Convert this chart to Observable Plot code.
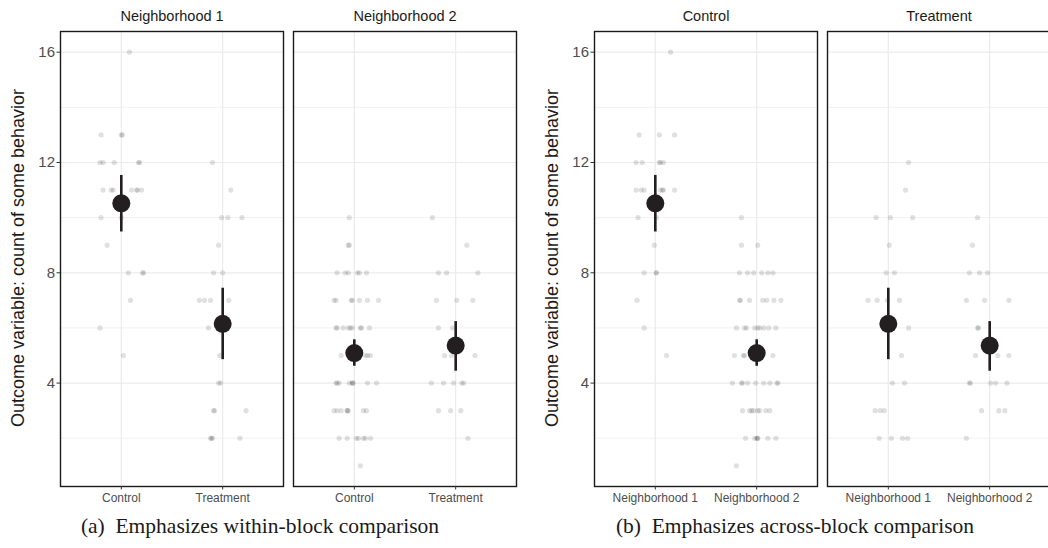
<!DOCTYPE html>
<html><head><meta charset="utf-8">
<script src="https://cdn.jsdelivr.net/npm/d3@7"></script>
<script src="https://cdn.jsdelivr.net/npm/@observablehq/plot@0.6"></script>
<style>
html,body{margin:0;padding:0;background:#fff;overflow:hidden;}
#root{position:relative;width:1048px;height:548px;overflow:hidden;background:#fff;}
.panel{position:absolute;top:0;width:520px;height:510px;}
.panel svg{max-width:none !important;}
.ytitle{position:absolute;font-family:"Liberation Sans",Arial,sans-serif;font-size:18px;color:#1a1a1a;white-space:nowrap;transform:translate(-50%,-50%) rotate(-90deg);}
.caption{position:absolute;font-family:"Liberation Serif","DejaVu Serif",serif;font-size:21.5px;color:#1a1a1a;white-space:nowrap;transform:translate(-50%,-50%);}
</style>
</head><body>
<div id="root">
  <div class="panel" id="pa" style="left:0px"></div>
  <div class="panel" id="pb" style="left:534px"></div>
  <div class="ytitle" style="left:18px;top:258px">Outcome variable: count of some behavior</div>
  <div class="ytitle" style="left:552px;top:258px">Outcome variable: count of some behavior</div>
  <div class="caption" style="left:260px;top:526px">(a)&nbsp; Emphasizes within-block comparison</div>
  <div class="caption" style="left:795px;top:526px">(b)&nbsp; Emphasizes across-block comparison</div>
</div>
<script>
// Categories
const neighborhoods = ["Neighborhood 1", "Neighborhood 2"];
const treatments = ["Control", "Treatment"];
const yTicks = [4, 8, 12, 16];

const n1ControlY = [16, 13,13,13, 12,12,12,12,12, 11,11,11,11,11,11,11, 10,10, 9, 8,8,8, 7, 6, 5];
const n1ControlJitA = [0.08, -0.20,0.00,0.01, -0.21,-0.18,-0.07,0.17,0.18, -0.18,-0.10,-0.08,0.10,0.15,0.16,0.20, -0.20,0.00, -0.14, 0.07,0.21,0.22, 0.09, -0.21, 0.02];
const n1ControlJitB = [0.15, -0.16,0.04,0.19, -0.19,-0.13,0.04,0.05,0.08, -0.19,-0.14,-0.11,0.05,0.07,0.08,0.19, -0.17,0.01, -0.01, -0.11,0.01,0.01, -0.18, -0.11, 0.11];

const n1TreatY = [12, 11, 10,10,10, 9, 8,8, 7,7,7,7, 6,6, 5, 4,4, 3,3,3, 2,2,2,2];
const n1TreatJitA = [-0.10, 0.08, -0.01,0.05,0.19, -0.04, -0.09,0.00, -0.23,-0.18,-0.12,0.06, -0.14,0.00, -0.03, -0.04,-0.02, -0.09,-0.08,0.23, -0.12,-0.11,-0.10,0.17];
const n1TreatJitB = [0.20, 0.17, -0.12,0.02,0.24, 0.01, -0.02,0.06, -0.20,-0.11,-0.01,0.11, 0.20,0.00, 0.13, 0.04,0.16, -0.13,-0.08,-0.04, -0.09,0.03,0.14,0.19];

const n2ControlY = [10, 9,9, 8,8,8,8,8,8, 7,7,7,7,7,7,7, 6,6,6,6,6,6,6,6,6, 5,5,5,5,5,5, 4,4,4,4,4,4,4,4,4, 3,3,3,3,3,3,3,3, 2,2,2,2,2,2,2, 1];
const n2ControlJitA = [-0.05, -0.06,-0.05, -0.17,-0.09,-0.06,0.03,0.05,0.12, -0.20,-0.18,-0.03,-0.02,0.05,0.13,0.24,
  -0.18,-0.17,-0.11,-0.06,-0.04,-0.02,0.06,0.07,0.15, -0.13,0.00,0.01,0.11,0.13,0.16,
  -0.18,-0.17,-0.15,-0.05,-0.02,-0.02,-0.01,0.13,0.22, -0.20,-0.17,-0.13,-0.07,-0.07,-0.06,0.09,0.12,
  -0.15,-0.07,0.02,0.04,0.09,0.11,0.16, 0.06];
const n2ControlJitB = [-0.15, -0.15,0.01, -0.17,-0.09,-0.03,0.05,0.11,0.16, -0.17,-0.16,-0.07,0.06,0.10,0.17,0.24,
  -0.20,-0.12,-0.10,-0.02,0.01,0.03,0.07,0.12,0.19, -0.22,-0.13,-0.12,-0.01,0.01,0.16,
  -0.24,-0.15,-0.14,-0.09,-0.01,0.07,0.13,0.20,0.21, -0.14,-0.07,-0.05,-0.03,0.01,0.03,0.09,0.13,
  -0.11,-0.02,0.00,0.01,0.01,0.11,0.19, -0.20];

const n2TreatY = [10, 9, 8,8,8, 7,7,7, 6,6, 5,5,5, 4,4,4,4,4, 3,3,3, 2];
const n2TreatJitA = [-0.23, 0.11, -0.17,-0.09,0.22, -0.19,0.01,0.17, -0.17,-0.03, -0.11,-0.04,0.19, -0.24,-0.12,-0.02,0.06,0.08, -0.17,-0.05,0.05, 0.12];
const n2TreatJitB = [-0.12, -0.17, -0.20,-0.10,-0.02, -0.23,-0.05,0.19, -0.12,-0.11, -0.14,0.08,0.19, -0.20,-0.19,0.01,0.06,0.17, -0.08,0.09,0.15, -0.23];

// Group means with error bar limits, order: N1 Control, N1 Treatment, N2 Control, N2 Treatment
const meanNeighborhood = ["Neighborhood 1", "Neighborhood 1", "Neighborhood 2", "Neighborhood 2"];
const meanTreatment = ["Control", "Treatment", "Control", "Treatment"];
const meanValue = [10.52, 6.15, 5.09, 5.36];
const meanLow = [9.48, 4.85, 4.61, 4.43];
const meanHigh = [11.53, 7.44, 5.57, 6.23];

// Build tables
const groups = [
  {nb: "Neighborhood 1", tr: "Control", y: n1ControlY, ja: n1ControlJitA, jb: n1ControlJitB},
  {nb: "Neighborhood 1", tr: "Treatment", y: n1TreatY, ja: n1TreatJitA, jb: n1TreatJitB},
  {nb: "Neighborhood 2", tr: "Control", y: n2ControlY, ja: n2ControlJitA, jb: n2ControlJitB},
  {nb: "Neighborhood 2", tr: "Treatment", y: n2TreatY, ja: n2TreatJitA, jb: n2TreatJitB}
];
const obs = [];
for (const g of groups) g.y.forEach((v, i) => obs.push({nb: g.nb, tr: g.tr, y: v, ja: g.ja[i], jb: g.jb[i]}));
const means = meanValue.map((v, i) => ({nb: meanNeighborhood[i], tr: meanTreatment[i], m: v, lo: meanLow[i], hi: meanHigh[i]}));

function panel(facetKey, xKey, jitKey, facetDomain, xDomain) {
  const xi = d => xDomain.indexOf(d[xKey]) + 1;
  return Plot.plot({
    width: 520, height: 510,
    marginLeft: 60, marginRight: 4, marginTop: 31, marginBottom: 24,
    x: {domain: [0.4, 2.6]},
    y: {domain: [0.25, 16.75]},
    fx: {domain: facetDomain, paddingInner: 10 / 233, paddingOuter: 0},
    style: {fontFamily: "'Liberation Sans', Arial, sans-serif", background: "white", overflow: "visible", maxWidth: "none"},
    marks: [
      Plot.gridY([2, 6, 10, 14], {stroke: "#ebebeb", strokeOpacity: 1, strokeWidth: 0.7}),
      Plot.gridY(yTicks, {stroke: "#ebebeb", strokeOpacity: 1, strokeWidth: 1.2}),
      Plot.gridX([1, 2], {stroke: "#ebebeb", strokeOpacity: 1, strokeWidth: 1.2}),
      Plot.dot(obs, {fx: facetKey, x: d => xi(d) + d[jitKey], y: "y", r: 2.6, fill: "#000", fillOpacity: 0.12, stroke: "none"}),
      Plot.ruleX(means, {fx: facetKey, x: xi, y1: "lo", y2: "hi", stroke: "#231f20", strokeWidth: 2.6}),
      Plot.dot(means, {fx: facetKey, x: xi, y: "m", r: 9, fill: "#231f20", stroke: "none"}),
      Plot.frame({stroke: "#1a1a1a", strokeWidth: 1.4}),
      Plot.axisY(yTicks, {tickSize: 3.5, tickPadding: 2, fontSize: 15, label: null, color: "#4d4d4d", stroke: "#333"}),
      Plot.axisX([1, 2], {tickSize: 3.5, tickPadding: 3, fontSize: 12, label: null, color: "#4d4d4d", stroke: "#333", tickFormat: i => xDomain[i - 1]}),
      Plot.axisFx({anchor: "top", tickSize: 0, tickPadding: 11, fontSize: 14.5, label: null, color: "#1a1a1a"})
    ]
  });
}

document.getElementById("pa").appendChild(panel("nb", "tr", "ja", neighborhoods, treatments));
document.getElementById("pb").appendChild(panel("tr", "nb", "jb", treatments, neighborhoods));
</script>
</body></html>
